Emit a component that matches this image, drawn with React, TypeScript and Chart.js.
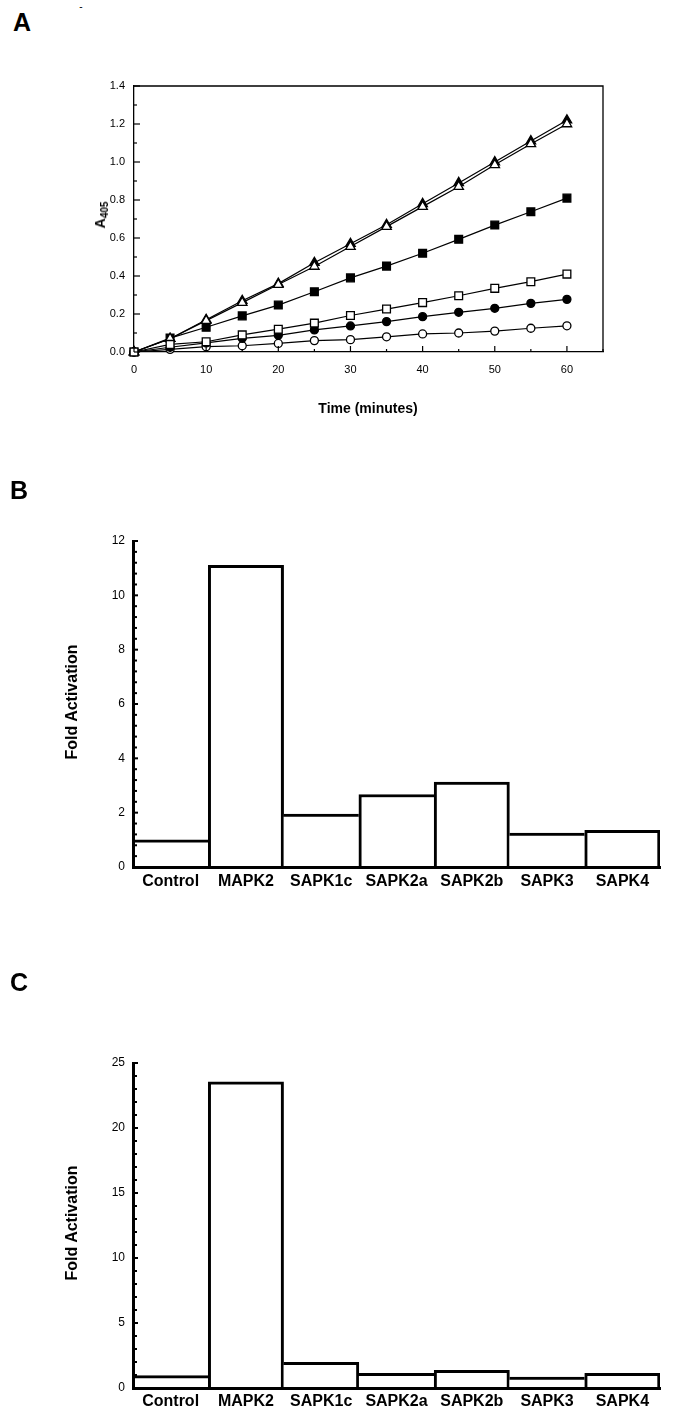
import React, { useEffect, useRef } from 'react';
import { Chart, registerables } from 'chart.js';

Chart.register(...registerables);
Chart.defaults.font.family = '"Liberation Sans", Arial, Helvetica, sans-serif';
Chart.defaults.color = '#000';

// ---------- Panel A data ----------
const times = [0, 5, 10, 15, 20, 25, 30, 35, 40, 45, 50, 55, 60];
const filledTriangle = [0, 0.07, 0.17, 0.27, 0.36, 0.47, 0.57, 0.67, 0.78, 0.89, 1.0, 1.11, 1.22];
const openTriangle = [0, 0.07, 0.165, 0.26, 0.355, 0.45, 0.555, 0.66, 0.765, 0.87, 0.985, 1.095, 1.2];
const filledSquare = [0, 0.073, 0.13, 0.19, 0.247, 0.317, 0.39, 0.452, 0.52, 0.593, 0.668, 0.738, 0.81];
const openSquare = [0, 0.04, 0.054, 0.09, 0.12, 0.152, 0.192, 0.226, 0.26, 0.296, 0.335, 0.37, 0.41];
const filledCircle = [0, 0.025, 0.048, 0.072, 0.088, 0.116, 0.137, 0.16, 0.186, 0.209, 0.23, 0.256, 0.277];
const openCircle = [0, 0.014, 0.028, 0.033, 0.045, 0.06, 0.065, 0.08, 0.095, 0.1, 0.11, 0.125, 0.138];

// ---------- Panels B / C data ----------
const kinases = ['Control', 'MAPK2', 'SAPK1c', 'SAPK2a', 'SAPK2b', 'SAPK3', 'SAPK4'];
const foldB = [1.0, 11.1, 1.95, 2.67, 3.13, 1.25, 1.35];
const foldC = [0.95, 23.55, 1.97, 1.12, 1.35, 0.84, 1.12];

// axis ranges / tick steps
const aX = { min: 0, max: 65, major: 10, minor: 5 };
const aY = { min: 0, max: 1.4, major: 0.2, minor: 0.1 };
const bY = { min: 0, max: 12, major: 2, minor: 0.4 };
const cY = { min: 0, max: 25, major: 5, minor: 1 };

const innerTicks = {
  id: 'innerTicks',
  afterDraw(chart: any, _a: any, opts: any) {
    const ctx = chart.ctx;
    const area = chart.chartArea;
    ctx.save();
    ctx.strokeStyle = '#000';
    for (const t of opts.axes || []) {
      const scale = chart.scales[t.id];
      const n = Math.round((scale.max - scale.min) / t.minor);
      ctx.lineWidth = t.width;
      for (let i = 0; i <= n; i++) {
        const v = scale.min + i * t.minor;
        const r = v / t.major;
        const isMajor = Math.abs(r - Math.round(r)) < 1e-6;
        const len = isMajor ? t.majorLen : t.minorLen;
        const p = scale.getPixelForValue(v);
        ctx.beginPath();
        if (scale.isHorizontal()) {
          ctx.moveTo(p, area.bottom);
          ctx.lineTo(p, area.bottom - len);
        } else {
          ctx.moveTo(area.left, p);
          ctx.lineTo(area.left + len, p);
        }
        ctx.stroke();
      }
    }
    if (opts.frame) {
      ctx.lineWidth = opts.frame;
      ctx.beginPath();
      ctx.moveTo(area.left, area.top);
      ctx.lineTo(area.right, area.top);
      ctx.lineTo(area.right, area.bottom);
      ctx.stroke();
    }
    ctx.restore();
  },
};

function lineSet(values: number[], style: string, filled: boolean, radius: number, order: number) {
  return {
    data: times.map((t, i) => ({ x: t, y: values[i] })),
    borderColor: '#000',
    borderWidth: 1.2,
    pointStyle: style,
    pointRadius: radius,
    pointBackgroundColor: filled ? '#000' : '#fff',
    pointBorderColor: '#000',
    pointBorderWidth: 1.3,
    tension: 0,
    clip: false,
    order,
  };
}

function makeLineConfig(): any {
  return {
    type: 'line',
    data: {
      datasets: [
        lineSet(openSquare, 'rect', false, 5.5, 0),
        lineSet(openTriangle, 'triangle', false, 5.5, 1),
        lineSet(filledTriangle, 'triangle', true, 5.5, 2),
        lineSet(filledSquare, 'rect', true, 5.5, 3),
        lineSet(filledCircle, 'circle', true, 4, 4),
        lineSet(openCircle, 'circle', false, 4, 5),
      ],
    },
    options: {
      animation: false,
      responsive: false,
      events: [],
      layout: { padding: { top: 36, right: 70, left: 0, bottom: 0 }, autoPadding: false },
      plugins: {
        legend: { display: false },
        tooltip: { enabled: false },
        innerTicks: {
          axes: [
            { id: 'x', major: aX.major, minor: aX.minor, majorLen: 6, minorLen: 3, width: 1.2 },
            { id: 'y', major: aY.major, minor: aY.minor, majorLen: 6, minorLen: 3, width: 1.2 },
          ],
          frame: 1.3,
        },
      },
      scales: {
        x: {
          type: 'linear',
          min: aX.min,
          max: aX.max,
          grid: { display: false, drawTicks: false },
          border: { color: '#000', width: 1.3 },
          ticks: { stepSize: aX.major, includeBounds: false, padding: 11, maxRotation: 0, font: { size: 11 }, color: '#000' },
          afterFit: (s: any) => { s.height = 78; },
        },
        y: {
          type: 'linear',
          min: aY.min,
          max: aY.max,
          grid: { display: false, drawTicks: false },
          border: { color: '#000', width: 1.3 },
          ticks: { stepSize: aY.major, padding: 9, font: { size: 11 }, color: '#000', callback: (v: any) => Number(v).toFixed(1) },
          afterFit: (s: any) => { s.width = 134; },
        },
      },
    },
  };
}

function edgeWidths(values: number[], i: number, w: number) {
  const last = values.length - 1;
  const left = i === 0 ? 0 : values[i] >= values[i - 1] ? w : 0;
  const right = i === last ? w : values[i] > values[i + 1] ? w : 0;
  return { top: w, left, right, bottom: 0 };
}

function makeBarConfig(values: number[], range: any, padTop: number, xHeight: number, labelPad: number): any {
  return {
    type: 'bar',
    data: {
      labels: kinases,
      datasets: [
        {
          data: values,
          backgroundColor: '#fff',
          borderColor: '#000',
          borderWidth: (c: any) => edgeWidths(values, c.dataIndex, 3),
          borderSkipped: 'start',
          barPercentage: 1,
          categoryPercentage: 1,
        },
      ],
    },
    options: {
      animation: false,
      responsive: false,
      events: [],
      layout: { padding: { top: padTop, right: 13, left: 0, bottom: 0 }, autoPadding: false },
      plugins: {
        legend: { display: false },
        tooltip: { enabled: false },
        innerTicks: {
          axes: [{ id: 'y', major: range.major, minor: range.minor, majorLen: 5, minorLen: 4, width: 2 }],
        },
      },
      scales: {
        x: {
          grid: { display: false, drawTicks: false },
          border: { color: '#000', width: 3, z: 1 },
          ticks: { padding: labelPad, font: { size: 16, weight: 'bold' }, color: '#000', maxRotation: 0, autoSkip: false },
          afterFit: (s: any) => { s.height = xHeight; },
        },
        y: {
          min: range.min,
          max: range.max,
          grid: { display: false, drawTicks: false },
          border: { color: '#000', width: 3, z: 1 },
          ticks: { stepSize: range.major, padding: 8, font: { size: 12 }, color: '#000' },
          afterFit: (s: any) => { s.width = 133; },
        },
      },
    },
  };
}

function ChartCanvas({ make, top, height }: { make: () => any; top: number; height: number }) {
  const ref = useRef<HTMLCanvasElement | null>(null);
  useEffect(() => {
    if (!ref.current) return;
    const cfg = make();
    cfg.plugins = [innerTicks];
    const chart = new Chart(ref.current, cfg);
    return () => chart.destroy();
  }, []);
  return (
    <canvas
      ref={ref}
      width={673}
      height={height}
      style={{ position: 'absolute', left: 0, top, width: 673, height }}
    />
  );
}

function Txt({ x, y, size, rotate, weight = 'bold', children }: any) {
  return (
    <div
      style={{
        position: 'absolute',
        left: x,
        top: y,
        transform: `translate(-50%, -50%)${rotate ? ' rotate(-90deg)' : ''}`,
        fontSize: size,
        fontWeight: weight,
        whiteSpace: 'nowrap',
        lineHeight: 1,
      }}
    >
      {children}
    </div>
  );
}

export default function App() {
  useEffect(() => {
    document.body.style.margin = '0';
    document.body.style.background = '#fff';
  }, []);
  return (
    <div
      style={{
        position: 'relative',
        width: 673,
        height: 1415,
        background: '#fff',
        color: '#000',
        overflow: 'hidden',
        fontFamily: '"Liberation Sans", Arial, Helvetica, sans-serif',
      }}
    >
      <ChartCanvas make={makeLineConfig} top={50} height={380} />
      <ChartCanvas make={() => makeBarConfig(foldB, bY, 41, 53, 5)} top={500} height={420} />
      <ChartCanvas make={() => makeBarConfig(foldC, cY, 43, 27, 4)} top={1020} height={395} />

      <Txt x={22} y={22} size={25}>A</Txt>
      <Txt x={81} y={7} size={10} weight="normal">-</Txt>
      <Txt x={100} y={215} size={14} rotate>
        A<span style={{ fontSize: 10, position: 'relative', top: 3 }}>405</span>
      </Txt>
      <Txt x={368} y={408} size={14}>Time (minutes)</Txt>

      <Txt x={19} y={490} size={25}>B</Txt>
      <Txt x={72} y={702} size={16} rotate>Fold Activation</Txt>

      <Txt x={19} y={982} size={25}>C</Txt>
      <Txt x={72} y={1223} size={16} rotate>Fold Activation</Txt>
    </div>
  );
}
